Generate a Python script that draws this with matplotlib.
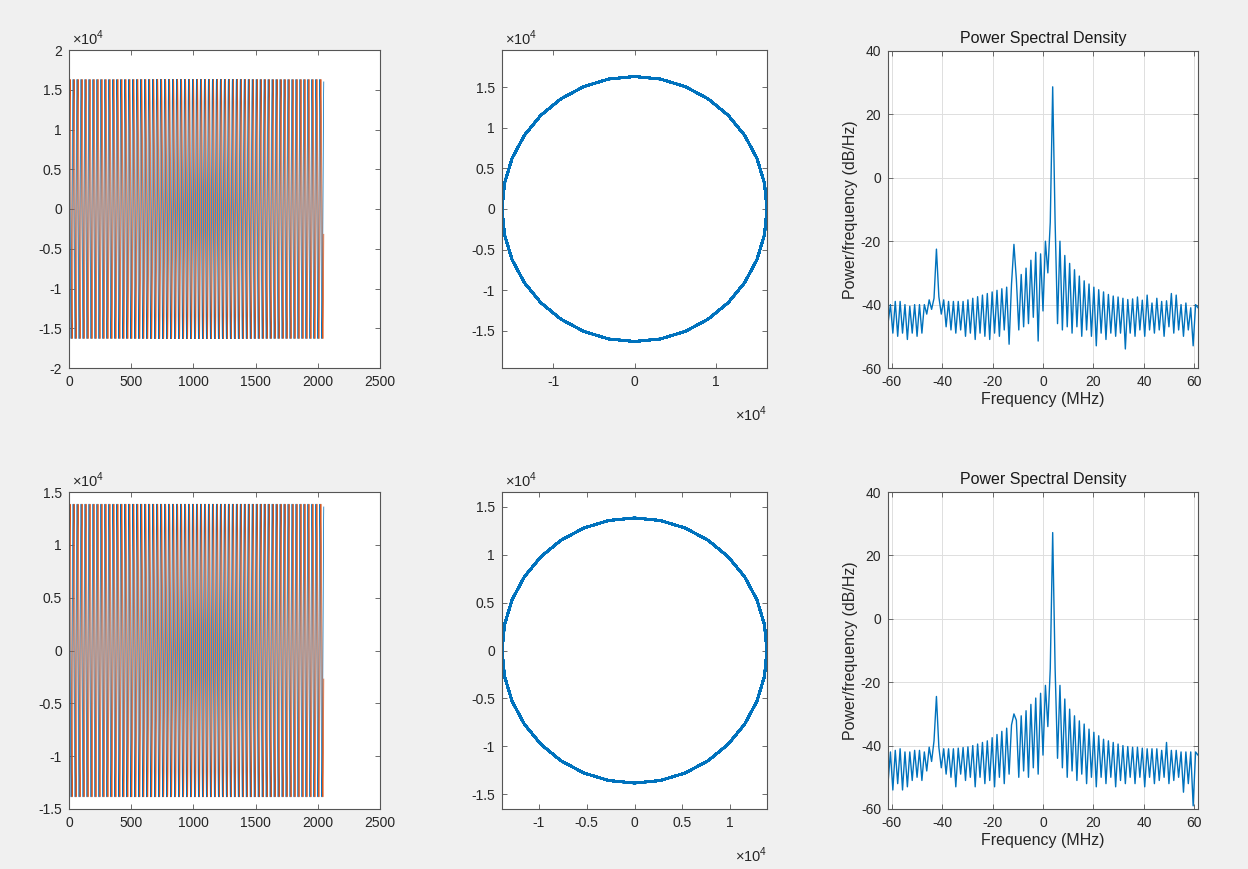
import numpy as np
import matplotlib
matplotlib.use('Agg')
import matplotlib.pyplot as plt

plt.rcParams['font.family'] = ['Liberation Sans', 'DejaVu Sans']
plt.rcParams['mathtext.fontset'] = 'custom'
plt.rcParams['mathtext.rm'] = 'Liberation Sans'

# ---------------- data ----------------
n_cycles = 64  # repeats of one 32-sample cycle -> 2048 samples

# one cycle of I / Q samples (circle vertices), top row
cycle_I_top = [16300, 15987, 15059, 13553, 11526, 9056, 6238, 3180,
               0, -3180, -6238, -9056, -11526, -13553, -15059, -15987,
               -16300, -15987, -15059, -13553, -11526, -9056, -6238, -3180,
               0, 3180, 6238, 9056, 11526, 13553, 15059, 15987]
cycle_Q_top = [0, 3180, 6238, 9056, 11526, 13553, 15059, 15987,
               16300, 15987, 15059, 13553, 11526, 9056, 6238, 3180,
               0, -3180, -6238, -9056, -11526, -13553, -15059, -15987,
               -16300, -15987, -15059, -13553, -11526, -9056, -6238, -3180]
# bottom row
cycle_I_bot = [13850, 13584, 12796, 11516, 9793, 7695, 5300, 2702,
               0, -2702, -5300, -7695, -9793, -11516, -12796, -13584,
               -13850, -13584, -12796, -11516, -9793, -7695, -5300, -2702,
               0, 2702, 5300, 7695, 9793, 11516, 12796, 13584]
cycle_Q_bot = [0, 2702, 5300, 7695, 9793, 11516, 12796, 13584,
               13850, 13584, 12796, 11516, 9793, 7695, 5300, 2702,
               0, -2702, -5300, -7695, -9793, -11516, -12796, -13584,
               -13850, -13584, -12796, -11516, -9793, -7695, -5300, -2702]

# PSD: frequency grid (MHz) and levels (dB/Hz), alternating nulls / lobe peaks
psd_freq = np.arange(129) * 0.96 - 61.44
psd_top = [-46, -40, -49, -39, -50, -39, -49, -40, -51, -40.5,
           -49, -40, -50, -40, -49, -40, -43, -38.5, -41.5, -38,
           -22.5, -37.5, -43, -38.5, -47, -39, -48, -39, -49, -39,
           -48, -39, -50, -38.5, -49, -38, -51, -37.5, -49, -37,
           -50, -36.5, -51, -36, -49, -35.5, -50, -35, -48, -34.5,
           -52.5, -33.5, -21, -32, -48, -30.5, -47, -28.5, -46, -26,
           -44, -23.5, -51.5, -24, -42, -20, -30, -14, 28.7, -14,
           -46, -20, -48, -24.5, -47, -27, -49, -29, -47, -31,
           -50, -32.5, -48, -33.5, -50, -34.5, -53, -35.3, -49, -36,
           -51, -36.8, -49, -37.3, -50, -37.6, -49, -38, -54, -38.4,
           -49, -38.2, -50, -37.6, -48, -38.6, -50, -37, -48, -39.5,
           -49, -38, -48, -39, -50, -38.8, -47, -36.5, -49, -37,
           -48, -40, -50, -39.5, -48, -41, -53, -40, -41]
psd_bot = [-52, -42, -54, -41.5, -52, -41, -54, -42, -53, -42,
           -51, -41.5, -50, -41.5, -51, -42, -48, -40.5, -45, -38.5,
           -24.5, -40.5, -47, -41, -49, -41, -50, -41, -53, -40.8,
           -49, -40.6, -51, -40.4, -50, -40, -53, -39.5, -50, -39,
           -52, -38.5, -51, -37.5, -53, -36.5, -50, -35.5, -52, -34.5,
           -49, -33.5, -30, -32, -50, -30.6, -48, -29, -50, -27,
           -47, -25, -49, -23.5, -43, -21, -34, -15.7, 27.2, -15.7,
           -44, -21, -47, -25.3, -50, -28.5, -48, -30.6, -51, -32.2,
           -49, -33.2, -52, -34.8, -50, -35.8, -53, -36.9, -50, -38,
           -52, -38.5, -50, -39, -53, -39.5, -51, -40, -52, -40.3,
           -50, -40.5, -52, -40.5, -50, -40.8, -53, -41, -50, -41,
           -52, -41, -51, -41.5, -50, -39, -52, -41.5, -51, -41.5,
           -50, -42, -54.7, -42, -52, -42, -59, -42, -43]

# ---------------- style ----------------
BLUE = '#0072BD'
ORANGE = '#D95319'
AXC = '#262626'
FIG_W, FIG_H = 1248, 869

fig = plt.figure(figsize=(12.48, 8.69), dpi=100, facecolor='#f0f0f0')


def add_ax(l, t, r, b):
    return fig.add_axes([l / FIG_W, 1 - b / FIG_H, (r - l) / FIG_W, (b - t) / FIG_H])


def style(ax):
    ax.set_facecolor('white')
    for s in ax.spines.values():
        s.set_color('#555555')
        s.set_linewidth(0.8)
    ax.tick_params(direction='in', top=True, right=True, length=3.5, width=0.6,
                   color='#555555', labelcolor=AXC, labelsize=10, pad=5)


def fmt(vals, scale=1.0):
    return [('%g' % (v / scale)) for v in vals]


def time_plot(ax, I, Q, ylim, yticks):
    x = np.arange(1, len(I) + 1)
    ax.plot(x, I, color=BLUE, lw=0.55)
    ax.plot(x, Q, color=ORANGE, lw=0.55)
    ax.set_xlim(0, 2500)
    ax.set_xticks([0, 500, 1000, 1500, 2000, 2500])
    ax.set_xticklabels(fmt([0, 500, 1000, 1500, 2000, 2500]))
    ax.set_ylim(*ylim)
    ax.set_yticks(yticks)
    ax.set_yticklabels(fmt(yticks, 1e4))
    style(ax)
    ax.text(0.01, 1.005, '×10$^{4}$', transform=ax.transAxes, ha='left', va='bottom',
            fontsize=10.5, color=AXC)


def circle_plot(ax, I, Q, xlim, ylim, xticks, yticks):
    ax.plot(I, Q, color=BLUE, lw=1.6)
    ax.set_xlim(*xlim)
    ax.set_ylim(*ylim)
    ax.set_xticks(xticks)
    ax.set_xticklabels(fmt(xticks, 1e4))
    ax.set_yticks(yticks)
    ax.set_yticklabels(fmt(yticks, 1e4))
    style(ax)
    ax.text(0.01, 1.005, '×10$^{4}$', transform=ax.transAxes, ha='left', va='bottom',
            fontsize=10.5, color=AXC)
    ax.text(1.0, -0.115, '×10$^{4}$', transform=ax.transAxes, ha='right', va='top',
            fontsize=10.5, color=AXC)


def psd_plot(ax, f, p):
    ax.plot(f, p, color=BLUE, lw=1.0)
    ax.set_xlim(-61.44, 61.44)
    ax.set_ylim(-60, 40)
    ax.set_xticks([-60, -40, -20, 0, 20, 40, 60])
    ax.set_yticks([-60, -40, -20, 0, 20, 40])
    ax.set_xticklabels(fmt([-60, -40, -20, 0, 20, 40, 60]))
    ax.set_yticklabels(fmt([-60, -40, -20, 0, 20, 40]))
    ax.grid(True, color='#dedede', lw=0.7)
    ax.set_axisbelow(True)
    style(ax)
    ax.set_title('Power Spectral Density', fontsize=11.5, color='#1a1a1a', pad=6)
    ax.set_xlabel('Frequency (MHz)', fontsize=11.5, color=AXC, labelpad=2)
    ax.set_ylabel('Power/frequency (dB/Hz)', fontsize=11.5, color=AXC, labelpad=2)


I_top = np.tile(cycle_I_top, n_cycles)
Q_top = np.tile(cycle_Q_top, n_cycles)
I_bot = np.tile(cycle_I_bot, n_cycles)
Q_bot = np.tile(cycle_Q_bot, n_cycles)

# top row
ax = add_ax(69, 50, 380, 368)
time_plot(ax, I_top, Q_top, (-20000, 20000),
          [-20000, -15000, -10000, -5000, 0, 5000, 10000, 15000, 20000])
ax = add_ax(502, 50, 767, 368)
circle_plot(ax, I_top, Q_top, (-16300, 16300), (-19560, 19560),
            [-10000, 0, 10000], [-15000, -10000, -5000, 0, 5000, 10000, 15000])
ax = add_ax(888, 51, 1198, 368)
psd_plot(ax, psd_freq, psd_top)

# bottom row
ax = add_ax(69, 492, 380, 809)
time_plot(ax, I_bot, Q_bot, (-15000, 15000),
          [-15000, -10000, -5000, 0, 5000, 10000, 15000])
ax = add_ax(502, 492, 767, 809)
circle_plot(ax, I_bot, Q_bot, (-13850, 13850), (-16560, 16560),
            [-10000, -5000, 0, 5000, 10000], [-15000, -10000, -5000, 0, 5000, 10000, 15000])
ax = add_ax(888, 492, 1198, 809)
psd_plot(ax, psd_freq, psd_bot)

fig.savefig('out.png', dpi=100, facecolor=fig.get_facecolor())
